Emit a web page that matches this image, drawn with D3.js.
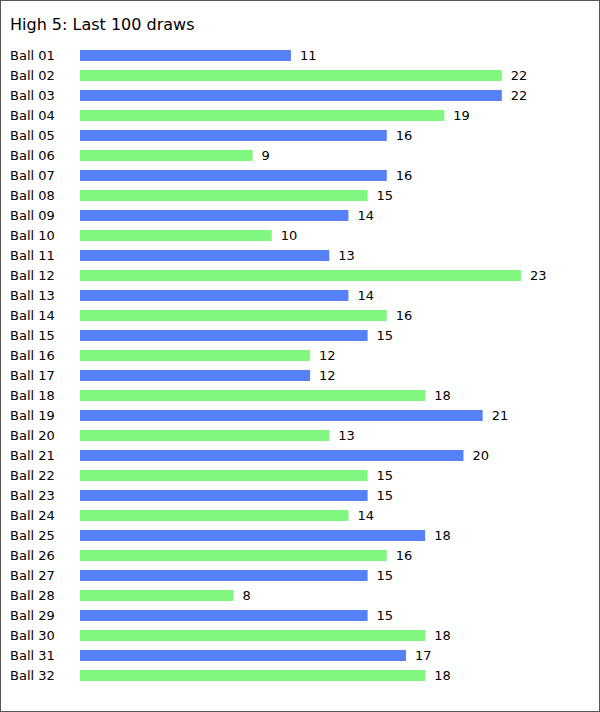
<!DOCTYPE html>
<html>
<head>
<meta charset="utf-8">
<script src="https://cdn.jsdelivr.net/npm/d3@7"></script>
<style>
  body { margin: 0; background: #fff; }
  svg { display: block; font-family: Verdana, "DejaVu Sans", sans-serif; }
</style>
</head>
<body>
<div id="chart"></div>
<script>
// balls and how often each came up in the last 100 draws
const balls = ["Ball 01","Ball 02","Ball 03","Ball 04","Ball 05","Ball 06","Ball 07","Ball 08",
  "Ball 09","Ball 10","Ball 11","Ball 12","Ball 13","Ball 14","Ball 15","Ball 16",
  "Ball 17","Ball 18","Ball 19","Ball 20","Ball 21","Ball 22","Ball 23","Ball 24",
  "Ball 25","Ball 26","Ball 27","Ball 28","Ball 29","Ball 30","Ball 31","Ball 32"];
const counts = [11,22,22,19,16,9,16,15,14,10,13,23,14,16,15,12,12,18,21,13,20,15,15,14,18,16,15,8,15,18,17,18];
const barColors = ["#5580f8", "#80f880"];

const width = 600, height = 712;

const svg = d3.select("#chart").append("svg")
    .attr("width", width)
    .attr("height", height);

// frame
svg.append("rect")
    .attr("x", 0.5).attr("y", 0.5)
    .attr("width", width - 1).attr("height", height - 1)
    .attr("fill", "#fff")
    .attr("stroke", "#555");

svg.append("text")
    .attr("x", 10).attr("y", 30)
    .attr("font-size", 16)
    .attr("fill", "#000")
    .text("High 5: Last 100 draws");

const x = d3.scaleLinear().domain([0, 23]).range([80, 521]);
const y = d3.scaleBand().domain(balls).range([50, 681]).paddingInner(0.45).paddingOuter(0);

const data = balls.map((b, i) => ({ ball: b, count: counts[i], i }));

const rows = svg.selectAll("g.row")
    .data(data)
    .enter().append("g")
    .attr("class", "row");

rows.append("rect")
    .attr("x", x(0))
    .attr("y", d => y(d.ball))
    .attr("width", d => x(d.count) - x(0))
    .attr("height", y.bandwidth())
    .attr("fill", d => barColors[d.i % 2]);

rows.append("text")
    .attr("x", 10)
    .attr("y", d => y(d.ball) + y.bandwidth() / 2 + 4.5)
    .attr("font-size", 13)
    .text(d => d.ball);

rows.append("text")
    .attr("x", d => x(d.count) + 9)
    .attr("y", d => y(d.ball) + y.bandwidth() / 2 + 4.5)
    .attr("font-size", 13)
    .text(d => d.count);
</script>
</body>
</html>
